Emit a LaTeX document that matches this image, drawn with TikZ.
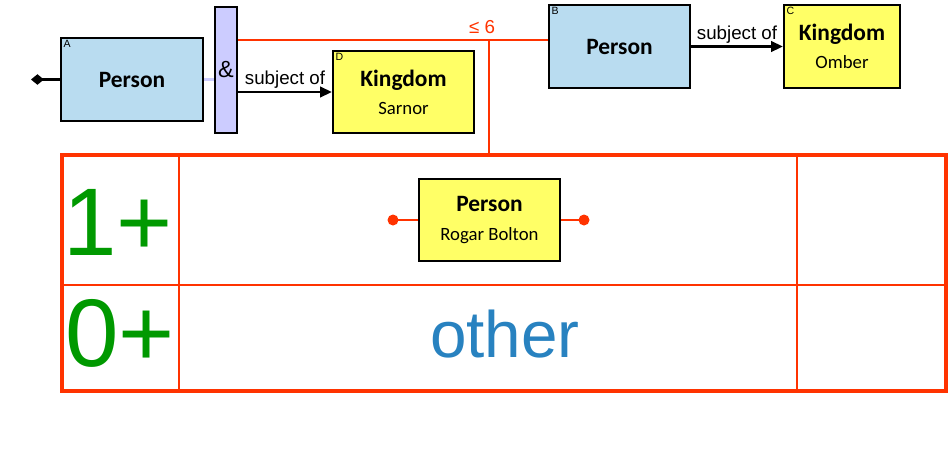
\documentclass[tikz,border=0pt]{standalone}
\usepackage{fontspec}
\setmainfont{Carlito}
\newfontfamily\arialfont{Liberation Sans}
\usetikzlibrary{arrows.meta}

\definecolor{personblue}{RGB}{185,220,240}
\definecolor{kingdomyellow}{RGB}{255,255,102}
\definecolor{andlilac}{RGB}{204,204,255}
\definecolor{rangered}{RGB}{255,51,0}
\definecolor{countgreen}{RGB}{0,153,0}
\definecolor{otherblue}{RGB}{40,130,192}

\begin{document}
\begin{tikzpicture}[x=0.03cm,y=-0.03cm]
  \tikzstyle{every node}=[font=\fontsize{16}{24}\selectfont]
  \tikzstyle{entity}=[draw=black,line width=2pt,align=center,inner sep=0pt]
  \tikzstyle{person}=[entity,fill=personblue]
  \tikzstyle{kingdom}=[entity,fill=kingdomyellow]
  \tikzstyle{corner}=[anchor=north west,inner sep=3pt,font=\arialfont\fontsize{9}{9}\selectfont]
  \tikzstyle{rel}=[line width=2pt,-{Triangle[length=10pt,width=9pt]}]
  \tikzstyle{reltext}=[above,inner sep=2pt,font=\arialfont\fontsize{16}{16}\selectfont]
  \tikzstyle{rangeline}=[draw=rangered,line width=1.7pt]
  \tikzstyle{count}=[text=countgreen,inner sep=0pt,font=\arialfont\fontsize{82}{82}\selectfont]

  \useasboundingbox (0,0) rectangle (950,462);

  % pattern
  \node[person,minimum width=4.26cm,minimum height=2.49cm,
        label={[corner]north west:A}] (personA) at (132,79.5)
        {\fontsize{20}{24}\selectfont\bfseries Person};

  \node[entity,fill=andlilac,minimum width=0.66cm,minimum height=3.78cm] (andbar) at (226,70)
        {\arialfont\fontsize{20}{20}\selectfont\&};

  \node[kingdom,minimum width=4.23cm,minimum height=2.46cm,
        label={[corner]north west:D}] (kingdomD) at (403.5,92)
        {{\fontsize{20}{26}\selectfont\bfseries Kingdom}\\Sarnor};

  \node[person,minimum width=4.23cm,minimum height=2.49cm,
        label={[corner]north west:B}] (personB) at (619.5,46.5)
        {\fontsize{20}{24}\selectfont\bfseries Person};

  \node[kingdom,minimum width=3.48cm,minimum height=2.49cm,
        label={[corner]north west:C}] (kingdomC) at (842,46.5)
        {{\fontsize{20}{26}\selectfont\bfseries Kingdom}\\Omber};

  \coordinate (start) at (31,79.5);
  \draw[line width=2pt,{Diamond[length=11pt,width=9pt]}-] (start) -- (personA.west);
  \draw[draw=andlilac,line width=2pt] (personA.east) -- (andbar.west |- personA.east);
  \draw[rel] (andbar.east |- kingdomD.west) -- node[reltext] {subject of} (kingdomD.west);
  \draw[rel] (personB.east) -- node[reltext] {subject of} (kingdomC.west);

  % distance
  \node[rangeline,draw,line width=3.5pt,minimum width=26.52cm,minimum height=7.08cm] (range) at (504,273) {};
  \coordinate (junction) at (489,40);
  \draw[rangeline] (andbar.east |- junction) -- (junction) -- (personB.west |- junction);
  \draw[rangeline] (junction) -- (junction |- range.north);
  \node[text=rangered,font=\arialfont\fontsize{16}{16}\selectfont] (maxhops) at (482,27) {≤ 6};

  \draw[rangeline] (179,155) -- (179,391);
  \draw[rangeline] (797,155) -- (797,391);
  \draw[rangeline] (62,285) -- (946,285);

  \node[count] (oneplus) at (118,222) {1+};
  \node[count] (zeroplus) at (120,333) {0+};

  \node[kingdom,minimum width=4.23cm,minimum height=2.46cm] (rogar) at (489.5,220)
        {{\fontsize{20}{26}\selectfont\bfseries Person}\\Rogar Bolton};
  \coordinate (dotL) at (393,220);
  \coordinate (dotR) at (584,220);
  \draw[rangeline] (rogar.west) -- (dotL);
  \draw[rangeline] (rogar.east) -- (dotR);
  \fill[rangered] (dotL) circle (5.5);
  \fill[rangered] (dotR) circle (5.5);

  \node[text=otherblue,font=\arialfont\fontsize{56}{56}\selectfont] (other) at (505,334) {other};

\end{tikzpicture}
\end{document}
